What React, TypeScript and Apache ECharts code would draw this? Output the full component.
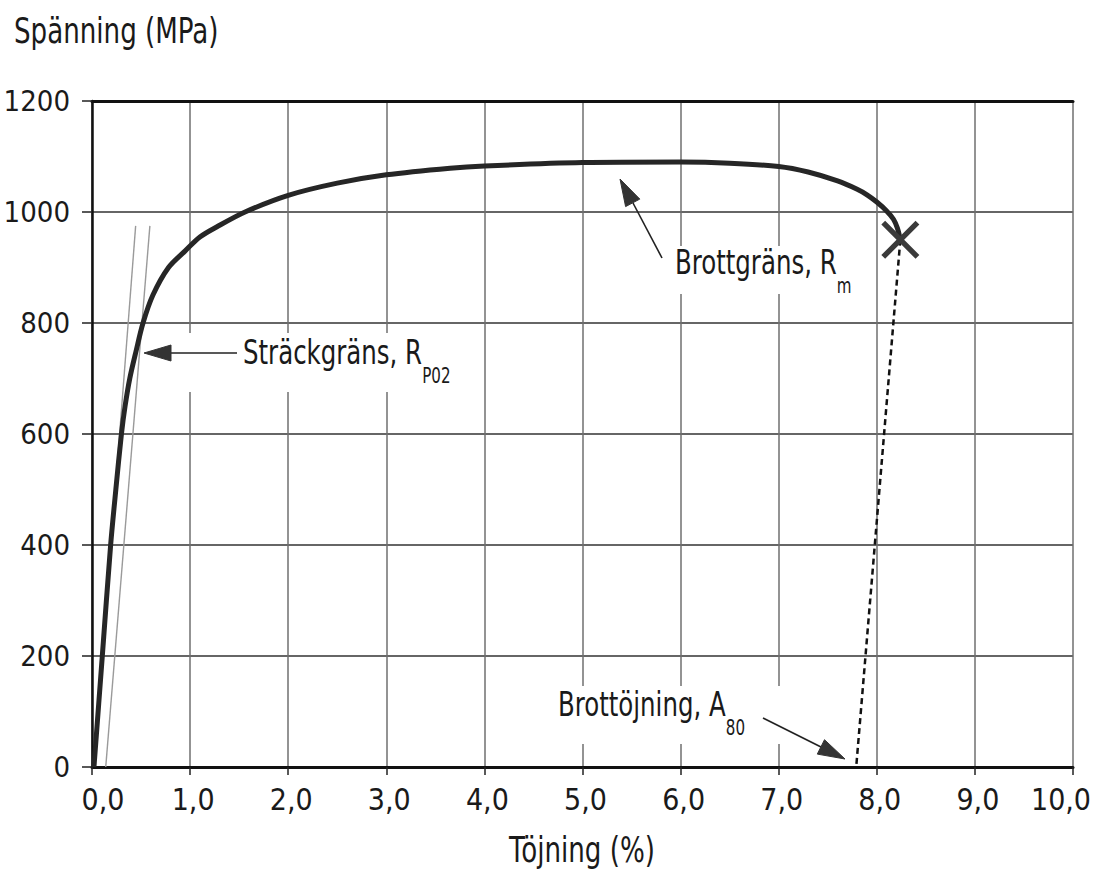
import React, { useEffect, useRef } from "react";
import * as echarts from "echarts";

// ---- data (strain %, stress MPa) ----
const curveStrain = [0.02, 0.105, 0.19, 0.243, 0.3, 0.337, 0.385, 0.45, 0.52, 0.62, 0.78, 0.95, 1.1, 1.27, 1.56, 2.0, 2.5, 3.0, 3.65, 4.0, 5.0, 6.0, 6.5, 7.0, 7.3, 7.6, 7.8, 7.9, 8.0, 8.1, 8.17, 8.21, 8.24];
const curveStress = [0, 200, 400, 500, 600, 650, 700, 750, 800, 850, 900, 930, 955, 973, 1000, 1030, 1052, 1067, 1079, 1083, 1089, 1090, 1088, 1082, 1072, 1056, 1041, 1031, 1018, 1002, 987, 971, 950];
const elasticLeft = [[0.02, 0], [0.445, 975]];
const elasticRight = [[0.14, 0], [0.59, 975]];
const fracturePoint = [8.24, 950];
const elongationEnd = [7.79, 0];
const xMin = 0, xMax = 10, xStep = 1;
const yMin = 0, yMax = 1200, yStep = 200;
const yTitle = "Spänning (MPa)";
const xTitle = "Töjning (%)";
const labelYield = ["Sträckgräns, R", "P02"];
const labelUts = ["Brottgräns, R", "m"];
const labelElong = ["Brottöjning, A", "80"];

const FONT = '"DejaVu Sans Condensed", "Liberation Sans Narrow", "Open Sans", sans-serif';
const INK = "#1a1a1a";

function richLabel(parts: string[], x: number, y: number) {
  return {
    type: "text",
    x,
    y,
    z: 120,
    scaleX: 0.8,
    scaleY: 1,
    style: {
      text: `{a|${parts[0]}}{b|${parts[1]}}`,
      textAlign: "left",
      align: "left",
      textVerticalAlign: "top",
      verticalAlign: "top",
      rich: {
        a: { fontSize: 34, fontFamily: FONT, fill: INK, color: INK, lineHeight: 36, verticalAlign: "top" },
        b: { fontSize: 21, fontFamily: FONT, fill: INK, color: INK, lineHeight: 51, verticalAlign: "bottom" },
      },
    },
  };
}

function plainText(text: string, x: number, y: number, align: string) {
  return {
    type: "text",
    x,
    y,
    z: 120,
    scaleX: 0.83,
    scaleY: 1,
    style: { text, fontSize: 35, fontFamily: FONT, fill: INK, textAlign: align, align, textVerticalAlign: "middle", verticalAlign: "middle" },
  };
}

function arrow(tail: number[], base: number[], head: number[][]) {
  return [
    { type: "line", z: 120, shape: { x1: tail[0], y1: tail[1], x2: base[0], y2: base[1] }, style: { stroke: "#222", lineWidth: 1.6 } },
    { type: "polygon", z: 121, shape: { points: head }, style: { fill: "#333", stroke: "#333", lineWidth: 1 } },
  ];
}

function whiteBox(x: number, y: number, w: number, h: number) {
  return { type: "rect", z: 110, shape: { x, y, width: w, height: h }, style: { fill: "#fff" } };
}

export default function App() {
  const ref = useRef<HTMLDivElement>(null);
  useEffect(() => {
    if (!ref.current) return;
    const chart = echarts.init(ref.current, undefined, { renderer: "svg" });
    const curve = curveStrain.map((s, i) => [s, curveStress[i]]);
    const fmt = (v: number) => {
      const s = v.toFixed(1).replace(".", ",");
      if (v === xMin) return `{l|${s}}`;
      if (v === xMax) return `{r|${s}}`;
      return `{c|${s}}`;
    };
    const XF = 30;
    const labelRich = {
      l: { fontSize: XF, fontFamily: FONT, color: INK, padding: [0, 0, 0, 22] },
      r: { fontSize: XF, fontFamily: FONT, color: INK, padding: [0, 24, 0, 0] },
      c: { fontSize: XF, fontFamily: FONT, color: INK, padding: [0, 0, 0, 6] },
    };
    chart.setOption({
      animation: false,
      backgroundColor: "#fff",
      grid: { left: 92, right: 21, top: 101, bottom: 105, containLabel: false, outerBoundsMode: "none" },
      xAxis: [
        {
          type: "value", min: xMin, max: xMax, interval: xStep,
          axisLine: { show: true, onZero: false, lineStyle: { color: "#111", width: 3 } },
          axisTick: { show: true, length: 8, lineStyle: { color: "#222", width: 1.5 } },
          axisLabel: { formatter: fmt, rich: labelRich, margin: 17, fontSize: XF, fontFamily: FONT, color: INK },
          splitLine: { show: true, lineStyle: { color: "#6f6f6f", width: 1.5 } },
        },
        {
          type: "value", position: "top", min: xMin, max: xMax, interval: xStep,
          axisLine: { show: true, onZero: false, lineStyle: { color: "#111", width: 3 } },
          axisTick: { show: false }, axisLabel: { show: false }, splitLine: { show: false },
        },
      ],
      yAxis: [
        {
          type: "value", min: yMin, max: yMax, interval: yStep,
          axisLine: { show: true, onZero: false, lineStyle: { color: "#111", width: 2.5 } },
          axisTick: { show: true, length: 10, lineStyle: { color: "#222", width: 1.5 } },
          axisLabel: { margin: 22, fontSize: 29, fontFamily: FONT, color: INK, formatter: (v: number) => String(v) },
          splitLine: { show: true, lineStyle: { color: "#333", width: 1.5 } },
        },
      ],
      series: [
        { type: "line", data: elasticLeft, symbol: "none", silent: true, lineStyle: { color: "#9a9a9a", width: 1.4 }, z: 3 },
        { type: "line", data: elasticRight, symbol: "none", silent: true, lineStyle: { color: "#9a9a9a", width: 1.4 }, z: 3 },
        { type: "line", data: curve, symbol: "none", smooth: 0.3, lineStyle: { color: "#262626", width: 5 }, z: 5 },
        { type: "line", data: [fracturePoint, elongationEnd], symbol: "none", lineStyle: { color: "#111", width: 2.5, type: [6, 4] }, z: 4 },
        {
          type: "scatter", data: [fracturePoint], z: 6,
          symbol: "path://M2,0 L10,8 L18,0 L20,2 L12,10 L20,18 L18,20 L10,12 L2,20 L0,18 L8,10 L0,2 Z",
          symbolSize: 38, itemStyle: { color: "#3a3a3a", opacity: 1 },
        },
      ],
      graphic: [
        whiteBox(175, 333, 235, 59),
        whiteBox(660, 246, 205, 48),
        whiteBox(540, 686, 265, 58),
        plainText(yTitle, 14, 31, "left"),
        plainText(xTitle, 582, 850, "center"),
        richLabel(labelYield, 243, 335),
        richLabel(labelUts, 675, 245),
        richLabel(labelElong, 558, 687),
        ...arrow([237, 353], [168, 353], [[144, 353], [171, 345], [171, 361]]),
        ...arrow([662, 258], [633, 203], [[620, 179], [625.6, 206.6], [639.8, 199.1]]),
        ...arrow([763, 718], [821, 747], [[845, 759], [824.5, 739.7], [817.3, 754.1]]),
      ],
    });
    return () => chart.dispose();
  }, []);
  return <div ref={ref} style={{ position: "fixed", left: 0, top: 0, width: 1094, height: 872 }} />;
}
